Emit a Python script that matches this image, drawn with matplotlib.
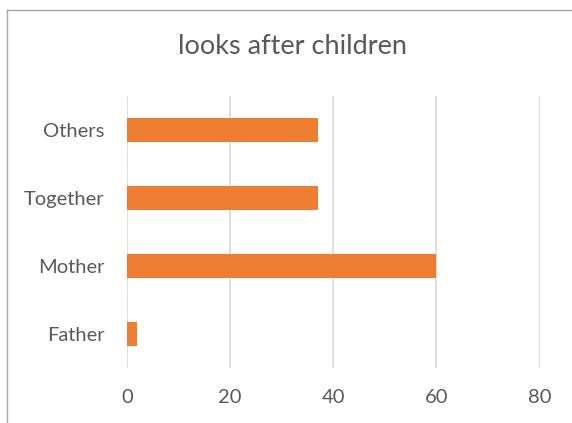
import numpy as np
from matplotlib import pyplot as plt

# who looks after the children, in percent
categories = ['Father', 'Mother', 'Together', 'Others']
values = [2, 60, 37, 37]
x_ticks = [0, 20, 40, 60, 80]

plt.rcParams['font.family'] = ['Lato', 'DejaVu Sans']

fig = plt.figure(figsize=(5.72, 4.23), dpi=100)
ax = fig.add_axes([127/572, 1 - 368/423, (539.5 - 127)/572, (368 - 96)/423])

pos = np.arange(len(categories))
ax.barh(pos, values, height=0.36, color='#ED7D31', zorder=3)

ax.set_xlim(0, 80)
ax.set_ylim(-0.5, len(categories) - 0.5)
ax.set_xticks(x_ticks)
ax.set_yticks(pos)
ax.set_yticklabels(categories)
ax.grid(axis='x', color='#d9d9d9', linewidth=1.2, zorder=0)
for s in ax.spines.values():
    s.set_visible(False)
ax.tick_params(axis='both', length=0, labelsize=14.5, labelcolor='#595959')
ax.tick_params(axis='x', pad=15)
ax.tick_params(axis='y', pad=16)

fig.text(293/572, 1 - 47/423, 'looks after children', ha='center', va='center',
         fontsize=19.5, color='#595959')

# chart border
fig.add_artist(plt.Line2D([7/572, 7/572], [0, 1 - 10/423], color='#a6a6a6', lw=1))
fig.add_artist(plt.Line2D([7/572, 1], [1 - 10/423, 1 - 10/423], color='#a6a6a6', lw=1))

fig.savefig('out.png', dpi=100)
